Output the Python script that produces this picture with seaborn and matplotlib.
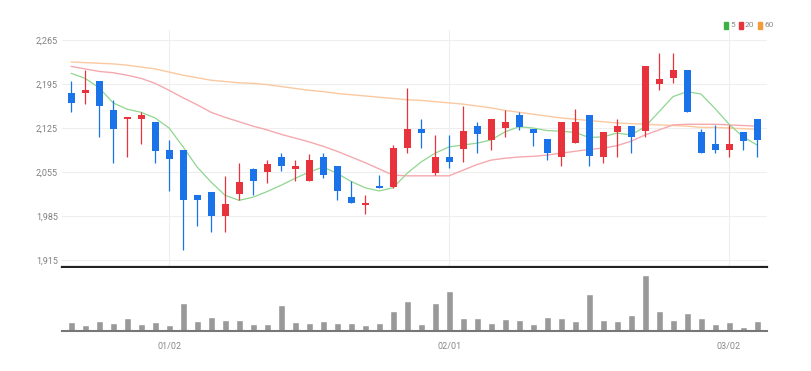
import numpy as np
import pandas as pd
import seaborn as sns
import matplotlib
matplotlib.use("Agg")
import matplotlib.pyplot as plt
from matplotlib.patches import Rectangle

# daily candles (index 0..49)
opens = [2180, 2181, 2200, 2154, 2139, 2139, 2134, 2090, 2090, 2018,
         2024, 1985, 2020, 2060, 2055, 2079, 2060, 2040, 2079, 2065,
         2015, 2003, 2033, 2031, 2094, 2124, 2054, 2079, 2091, 2129,
         2106, 2125, 2145, 2124, 2107, 2079, 2101, 2145, 2079, 2119,
         2129, 2121, 2195, 2205, 2218, 2119, 2099, 2090, 2119, 2140]
highs = [2200, 2218, 2200, 2170, 2141, 2151, 2134, 2106, 2090, 2018,
         2024, 2049, 2069, 2062, 2074, 2085, 2074, 2084, 2085, 2065,
         2040, 2018, 2050, 2098, 2188, 2140, 2114, 2114, 2160, 2135,
         2140, 2154, 2150, 2124, 2107, 2134, 2155, 2145, 2119, 2139,
         2129, 2224, 2244, 2244, 2218, 2124, 2130, 2130, 2119, 2140]
lows = [2150, 2164, 2111, 2069, 2079, 2100, 2070, 2025, 1931, 1970,
        1960, 1960, 2010, 2018, 2037, 2056, 2041, 2040, 2045, 2010,
        2005, 1989, 2029, 2029, 2085, 2094, 2050, 2061, 2071, 2086,
        2090, 2110, 2122, 2096, 2074, 2065, 2101, 2065, 2070, 2079,
        2085, 2111, 2185, 2196, 2150, 2085, 2085, 2079, 2090, 2079]
closes = [2165, 2185, 2160, 2124, 2141, 2146, 2089, 2076, 2010, 2010,
          1985, 2004, 2039, 2040, 2068, 2065, 2065, 2074, 2050, 2025,
          2005, 2006, 2029, 2094, 2123, 2117, 2079, 2071, 2120, 2115,
          2140, 2134, 2127, 2117, 2085, 2134, 2134, 2081, 2119, 2128,
          2110, 2224, 2203, 2218, 2150, 2085, 2090, 2099, 2105, 2106]

# moving averages as drawn
ma5 = [2212, 2204, 2189, 2165, 2155, 2150, 2141, 2125, 2095, 2063,
       2039, 2018, 2010, 2015, 2024, 2034, 2045, 2055, 2063, 2053,
       2040, 2030, 2025, 2030, 2053, 2071, 2085, 2095, 2098, 2101,
       2106, 2119, 2127, 2125, 2121, 2120, 2118, 2110, 2111, 2117,
       2114, 2127, 2151, 2175, 2183, 2179, 2156, 2131, 2111, 2098]
ma20 = [2223, 2219, 2215, 2213, 2209, 2204, 2196, 2185, 2173, 2162,
        2150, 2142, 2135, 2128, 2122, 2115, 2109, 2103, 2096, 2088,
        2079, 2070, 2060, 2050, 2049, 2049, 2049, 2049, 2058, 2067,
        2074, 2077, 2079, 2080, 2082, 2085, 2088, 2091, 2093, 2097,
        2104, 2114, 2122, 2130, 2131, 2131, 2131, 2130, 2129, 2128]
ma60 = [2230, 2229, 2228, 2227, 2225, 2222, 2219, 2214, 2209, 2205,
        2201, 2199, 2197, 2196, 2194, 2191, 2188, 2185, 2183, 2180,
        2178, 2176, 2174, 2172, 2170, 2169, 2167, 2165, 2163, 2160,
        2157, 2153, 2150, 2147, 2144, 2141, 2139, 2137, 2135, 2133,
        2132, 2131, 2130, 2129, 2128, 2126, 2126, 2125, 2124, 2123]

# volume (thousand shares)
volumes = [27, 17, 29, 23, 38, 20, 27, 17, 83, 29, 42, 33, 33, 20, 20, 78, 28,
           23, 29, 24, 24, 17, 24, 58, 88, 20, 83, 117, 38, 38, 23, 34, 32, 20,
           42, 38, 29, 110, 32, 29, 47, 165, 59, 32, 53, 37, 20, 27, 13, 29]

price_ticks = [1915, 1985, 2055, 2125, 2195, 2265]
date_pos = [7, 27, 47]
date_labels = ["01/02", "02/01", "03/02"]

UP = "#e8323c"
DOWN = "#1a73e8"

df = pd.DataFrame({"open": opens, "high": highs, "low": lows, "close": closes,
                   "ma5": ma5, "ma20": ma20, "ma60": ma60, "vol": volumes})
df["idx"] = np.arange(len(df))

sns.set_style("white")
plt.rcParams["font.family"] = ["Roboto", "DejaVu Sans"]

fig = plt.figure(figsize=(8.12, 3.71), dpi=100)
ax = fig.add_axes([0.0764, 0.2803, 0.868, 0.639])
axv = fig.add_axes([0.0764, 0.1078, 0.868, 0.170])

# moving averages
sns.lineplot(data=df, x="idx", y="ma60", ax=ax, color="#fbc9a0", lw=1.0)
sns.lineplot(data=df, x="idx", y="ma20", ax=ax, color="#f5a9ae", lw=1.0)
sns.lineplot(data=df, x="idx", y="ma5", ax=ax, color="#8fd68f", lw=0.9)

# candles
w = 0.5
for i, r in df.iterrows():
    c = UP if r["close"] >= r["open"] else DOWN
    ax.vlines(r["idx"], r["low"], r["high"], color=c, lw=0.9, zorder=3)
    lo = min(r["open"], r["close"])
    h = max(abs(r["close"] - r["open"]), 3)
    ax.add_patch(Rectangle((r["idx"] - w / 2, lo), w, h, color=c, zorder=4, lw=0))

ax.set_xlim(-0.65, 49.7)
ax.set_ylim(1904, 2281)
ax.set_yticks(price_ticks)
ax.set_yticklabels([f"{v:,}" for v in price_ticks])
ax.set_xticks(date_pos)
ax.set_xticklabels([])
ax.grid(True, color="#eeeeee", lw=0.8)
ax.tick_params(axis="y", length=0, pad=3, labelsize=6.5, labelcolor="#808080")
ax.tick_params(axis="x", length=0)
ax.set_xlabel("")
ax.set_ylabel("")
for s in ["top", "right", "left"]:
    ax.spines[s].set_visible(False)
ax.spines["bottom"].set_color("#222222")
ax.spines["bottom"].set_linewidth(1.6)

# volume
sns.barplot(data=df, x="idx", y="vol", ax=axv, color="#999999", width=0.5,
            saturation=1, native_scale=True)
axv.set_xlim(-0.65, 49.7)
axv.set_ylim(0, 186)
axv.set_yticks([])
axv.set_xticks(date_pos)
axv.set_xticklabels(date_labels)
axv.tick_params(axis="x", length=3, width=1, color="#666666", pad=5,
                labelsize=6.5, labelcolor="#888888")
axv.set_xlabel("")
axv.set_ylabel("")
for s in ["top", "right", "left"]:
    axv.spines[s].set_visible(False)
axv.spines["bottom"].set_color("#777777")
axv.spines["bottom"].set_linewidth(1.5)

# legend
lx = 0.892
for col, lab in [("#3cb043", "5"), ("#e8323c", "20"), ("#f39c3c", "60")]:
    fig.patches.append(Rectangle((lx, 0.922), 0.005, 0.02, color=col,
                                 transform=fig.transFigure, figure=fig))
    fig.text(lx + 0.007, 0.932, lab, fontsize=6, color="#888888", va="center")
    lx += 0.012 + 0.006 * len(lab)

fig.savefig("out.png", dpi=100)
